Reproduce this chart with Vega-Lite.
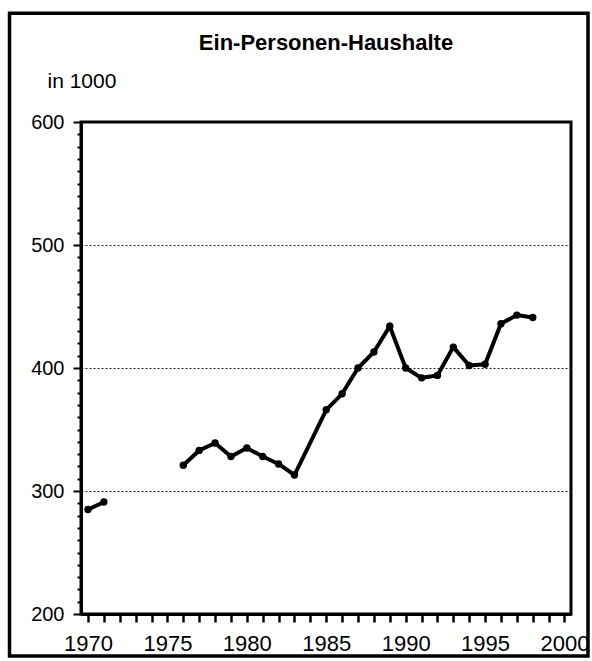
{
  "$schema": "https://vega.github.io/schema/vega-lite/v6.json",
  "width": 490,
  "height": 492,
  "autosize": {"type": "none"},
  "padding": {"left": 81, "top": 122, "right": 21, "bottom": 47},
  "background": "white",
  "title": {
    "text": "Ein-Personen-Haushalte",
    "anchor": "middle",
    "frame": "group",
    "font": "Liberation Sans",
    "fontWeight": "bold",
    "fontSize": 22,
    "color": "black",
    "baseline": "alphabetic",
    "offset": -60
  },
  "layer": [
    {
      "data": {
        "values": [
          {"year": 1970, "value": 285},
          {"year": 1971, "value": 291},
          {"year": 1972, "value": null},
          {"year": 1973, "value": null},
          {"year": 1974, "value": null},
          {"year": 1975, "value": null},
          {"year": 1976, "value": 321},
          {"year": 1977, "value": 333},
          {"year": 1978, "value": 339},
          {"year": 1979, "value": 328},
          {"year": 1980, "value": 335},
          {"year": 1981, "value": 328},
          {"year": 1982, "value": 322},
          {"year": 1983, "value": 313},
          {"year": 1985, "value": 366},
          {"year": 1986, "value": 379},
          {"year": 1987, "value": 400},
          {"year": 1988, "value": 413},
          {"year": 1989, "value": 434},
          {"year": 1990, "value": 400},
          {"year": 1991, "value": 392},
          {"year": 1992, "value": 394},
          {"year": 1993, "value": 417},
          {"year": 1994, "value": 402},
          {"year": 1995, "value": 403},
          {"year": 1996, "value": 436},
          {"year": 1997, "value": 443},
          {"year": 1998, "value": 441}
        ]
      },
      "mark": {
        "type": "line",
        "color": "black",
        "strokeWidth": 4,
        "point": {"filled": true, "size": 55, "color": "black"}
      },
      "encoding": {
        "x": {
          "field": "year",
          "type": "quantitative",
          "scale": {"domain": [1969.56, 2000.41], "nice": false, "zero": false},
          "axis": {
            "title": null,
            "tickCount": 200,
            "values": [1970,1971,1972,1973,1974,1975,1976,1977,1978,1979,1980,1981,1982,1983,1984,1985,1986,1987,1988,1989,1990,1991,1992,1993,1994,1995,1996,1997,1998,1999,2000],
            "labelExpr": "datum.value % 5 === 0 ? datum.value : ''",
            "format": "d",
            "grid": false,
            "domainColor": "black",
            "domainWidth": 3,
            "tickColor": "black",
            "tickWidth": 2.5,
            "tickSize": 8,
            "labelFont": "Liberation Sans",
            "labelFontSize": 22,
            "labelColor": "black",
            "labelPadding": 11,
            "labelFlush": false,
            "labelOverlap": false
          }
        },
        "y": {
          "field": "value",
          "type": "quantitative",
          "scale": {"domain": [200, 600], "nice": false, "zero": false},
          "axis": {
            "title": "in 1000",
            "titleAngle": 0,
            "titleAlign": "left",
            "titleBaseline": "alphabetic",
            "titleX": -34,
            "titleY": -35,
            "titleFont": "Liberation Sans",
            "titleFontSize": 21,
            "titleFontWeight": "normal",
            "titleColor": "black",
            "tickCount": 200,
            "values": [200,210,220,230,240,250,260,270,280,290,300,310,320,330,340,350,360,370,380,390,400,410,420,430,440,450,460,470,480,490,500,510,520,530,540,550,560,570,580,590,600],
            "labelExpr": "datum.value % 100 === 0 ? datum.label : ''",
            "labelFont": "Liberation Sans",
            "labelFontSize": 20,
            "labelColor": "black",
            "labelPadding": 9,
            "labelOverlap": false,
            "labelFlush": false,
            "domainColor": "black",
            "domainWidth": 3,
            "tickColor": "black",
            "tickWidth": 2,
            "tickSize": {"condition": {"test": "datum.value % 100 === 0", "value": 8}, "value": 4},
            "grid": true,
            "gridColor": "#222",
            "gridWidth": 1,
            "gridDash": [2, 2],
            "gridOpacity": {"condition": {"test": "datum.value % 100 === 0 && datum.value > 200 && datum.value < 600", "value": 1}, "value": 0}
          }
        }
      }
    },
    {
      "data": {"values": [{"frame": "outer"}]},
      "mark": {"type": "rect", "fill": null, "stroke": "black", "strokeWidth": 3.5, "clip": false},
      "encoding": {
        "x": {"datum": 1965.06, "type": "quantitative"},
        "x2": {"datum": 2001.48},
        "y": {"datum": 688.4, "type": "quantitative"},
        "y2": {"datum": 165.9}
      }
    }
  ],
  "config": {
    "view": {"stroke": "black", "strokeWidth": 3}
  }
}
